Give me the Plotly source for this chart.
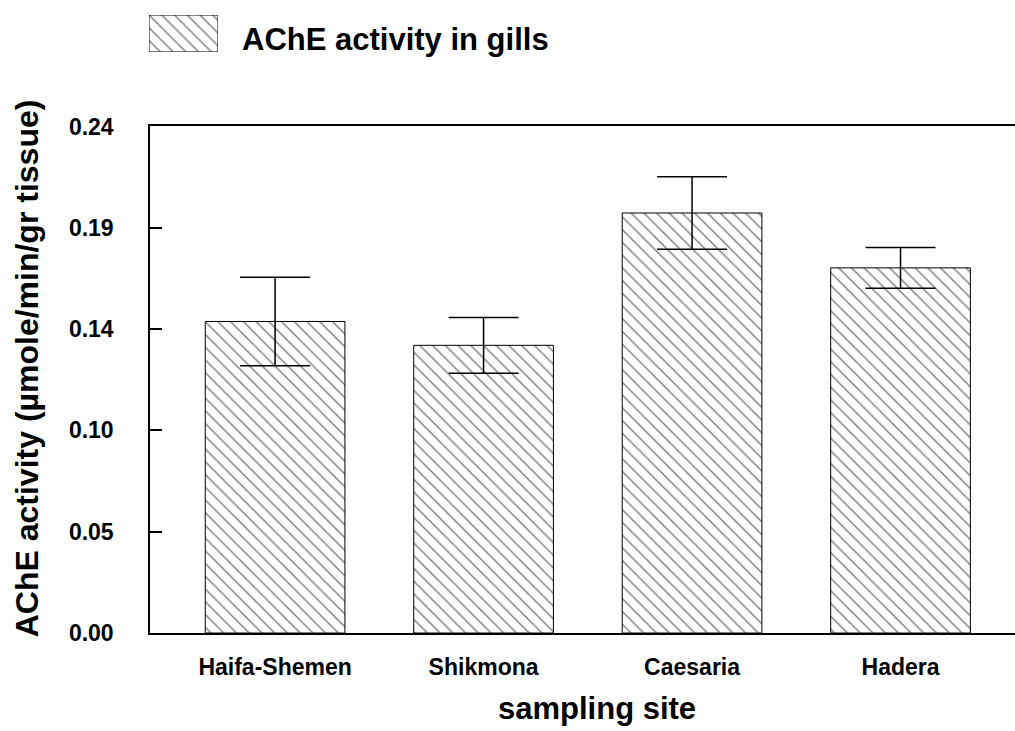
import plotly.graph_objects as go

sites = ["Haifa-Shemen", "Shikmona", "Caesaria", "Hadera"]
ache_gills = [0.1476, 0.1363, 0.1990, 0.1730]
ache_err = [0.0210, 0.0132, 0.0172, 0.0097]
y_tickvals = [0.0, 0.048, 0.096, 0.144, 0.192, 0.24]
y_ticktext = ["0.00", "0.05", "0.10", "0.14", "0.19", "0.24"]
legend_label = "AChE activity in gills"

W, H = 1015, 731
ML, MR, MT, MB = 140, 0, 10, 98
pw, ph = W - ML - MR, H - MT - MB

def px_x(px):
    return (px - ML) / pw

def px_y(py):
    return (H - MB - py) / ph

FONT = "Liberation Sans, Arial, Helvetica, sans-serif"
pattern = dict(shape="\\", size=9, solidity=0.16, fgcolor="black", bgcolor="white", fillmode="overlay")

fig = go.Figure()
fig.add_trace(go.Bar(
    x=sites, y=ache_gills, width=0.67,
    marker=dict(color="white", pattern=pattern, line=dict(color="black", width=1)),
    error_y=dict(type="data", array=ache_err, visible=True, color="black", thickness=1.5, width=35),
    showlegend=False,
))
# legend swatch
fig.add_trace(go.Bar(
    x=[0], y=[1], width=1, xaxis="x2", yaxis="y2",
    marker=dict(color="white", pattern=pattern, line=dict(color="black", width=1)),
    showlegend=False, hoverinfo="skip",
))

fig.update_layout(
    width=W, height=H,
    margin=dict(l=ML, r=MR, t=MT, b=MB),
    paper_bgcolor="white", plot_bgcolor="white",
    font=dict(family=FONT, color="black", size=22, weight="bold"),
    showlegend=False,
    xaxis=dict(
        domain=[px_x(150), 1], range=[-0.6, 3.549],
        showline=True, linecolor="black", linewidth=1.5, mirror=True,
        ticks="", showgrid=False, zeroline=False,
        tickfont=dict(size=23, family=FONT, weight="bold"),
        ticklabelstandoff=13,
    ),
    yaxis=dict(
        domain=[0, px_y(124)], range=[0, 0.24],
        tickvals=y_tickvals, ticktext=y_ticktext,
        showline=True, linecolor="black", linewidth=1.5, mirror=False,
        ticks="inside", ticklen=12, tickwidth=1.5, tickcolor="black",
        showgrid=False, zeroline=False,
        tickfont=dict(size=23, family=FONT, weight="bold"),
        ticklabelstandoff=30,
    ),
    xaxis2=dict(domain=[px_x(149), px_x(218)], range=[-0.5, 0.5], anchor="y2",
                visible=False, fixedrange=True),
    yaxis2=dict(domain=[px_y(49), px_y(12)], range=[0, 1], anchor="x2",
                visible=False, fixedrange=True),
    annotations=[
        dict(text=legend_label, xref="paper", yref="paper", x=px_x(240), y=px_y(37),
             xanchor="left", yanchor="middle", showarrow=False,
             font=dict(size=31, family=FONT, weight="bold")),
        dict(text="sampling site", xref="paper", yref="paper", x=px_x(597), y=px_y(709),
             xanchor="center", yanchor="middle", showarrow=False,
             font=dict(size=31, family=FONT, weight="bold")),
        dict(text="AChE activity (µmole/min/gr tissue)", xref="paper", yref="paper",
             x=px_x(27), y=px_y(367), xanchor="center", yanchor="middle",
             textangle=-90, showarrow=False,
             font=dict(size=32, family=FONT, weight="bold")),
    ],
)

fig.write_html("out.html", config={"displayModeBar": False},
               post_script="document.body.style.margin='0';document.body.style.overflow='hidden';")
